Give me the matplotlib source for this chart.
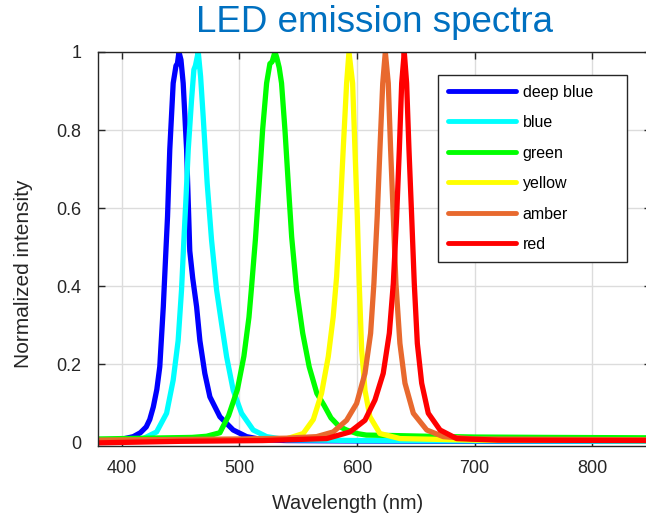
import matplotlib
matplotlib.use('Agg')
import matplotlib.pyplot as plt

# ── Spectra (wavelength in nm, normalized intensity) ──
deep_blue_wl = [380, 395, 401, 410, 416, 421, 424, 427, 430, 432.5, 435.5, 437.7, 439.1, 441,
                443.9, 446.3, 447.5, 448.8, 450.5, 452.4, 455.3, 458, 460.5, 463.8, 466.6,
                470.8, 475.1, 483.6, 494.9, 506.3, 520, 540, 600, 700, 850]
deep_blue_i = [0.003, 0.006, 0.008, 0.014, 0.024, 0.039, 0.058, 0.09, 0.135, 0.193, 0.347,
               0.49, 0.578, 0.75, 0.92, 0.965, 0.97, 1.0, 0.98, 0.92, 0.75, 0.49, 0.42,
               0.347, 0.26, 0.176, 0.116, 0.065, 0.031, 0.014, 0.006, 0.004, 0.003, 0.002,
               0.002]

blue_wl = [380, 400, 418.4, 429.8, 438.3, 443.9, 448.1, 451, 453, 454.7, 456.7, 459.5,
           461.5, 462.8, 465.2, 467.2, 469.4, 472.8, 476.5, 480.8, 485, 489.3, 494.9, 502,
           511.9, 523.3, 540, 600, 700, 850]
blue_i = [0.003, 0.004, 0.009, 0.026, 0.074, 0.159, 0.26, 0.39, 0.518, 0.62, 0.75, 0.877,
          0.955, 0.965, 1.0, 0.937, 0.834, 0.663, 0.518, 0.39, 0.304, 0.219, 0.133, 0.074,
          0.031, 0.014, 0.006, 0.004, 0.003, 0.002]

green_wl = [380, 420, 460, 472.3, 483.6, 491, 498.5, 504, 508.3, 510.3, 513.8, 517, 519.9,
            523.3, 526.1, 528, 530.4, 532, 534, 536, 538.9, 541.7, 544.6, 548.8, 554, 559.5,
            566, 572, 578, 585, 591.3, 600, 608, 628, 660, 700, 760, 850]
green_i = [0.008, 0.01, 0.012, 0.015, 0.024, 0.068, 0.135, 0.22, 0.32, 0.39, 0.52, 0.663,
           0.8, 0.92, 0.97, 0.975, 1.0, 0.985, 0.96, 0.92, 0.8, 0.663, 0.526, 0.39, 0.279,
           0.193, 0.125, 0.095, 0.062, 0.04, 0.031, 0.022, 0.018, 0.017, 0.015, 0.013,
           0.012, 0.011]

yellow_wl = [380, 500, 540, 554.4, 563, 570, 575.7, 579.9, 582.8, 585.6, 588.4, 591.3,
             593.3, 596.4, 598.4, 600.4, 602, 604.1, 606.9, 611.1, 619.6, 636.6, 700, 850]
yellow_i = [0.004, 0.005, 0.008, 0.022, 0.058, 0.125, 0.219, 0.321, 0.424, 0.578, 0.75,
            0.92, 1.0, 0.92, 0.75, 0.578, 0.407, 0.236, 0.133, 0.065, 0.022, 0.009, 0.005,
            0.004]

amber_wl = [380, 500, 540, 565.8, 579.9, 591.3, 599.8, 606.9, 611.7, 614.5, 617.3, 619.6,
            622, 624.2, 626.7, 628.7, 631, 633.2, 636.6, 640.9, 648, 659.4, 673.5, 700, 850]
amber_i = [0.005, 0.008, 0.01, 0.014, 0.026, 0.056, 0.099, 0.176, 0.279, 0.407, 0.578,
           0.75, 0.92, 1.0, 0.92, 0.75, 0.578, 0.407, 0.253, 0.151, 0.074, 0.031, 0.014,
           0.008, 0.006]

red_wl = [380, 450, 520, 574.3, 594.1, 606.9, 615.4, 622.4, 627.6, 631, 633.8, 636.1,
          638.1, 640.3, 642.3, 644.3, 646.6, 648.8, 651.4, 655.1, 660.7, 670.7, 684.9, 720,
          850]
red_i = [-0.002, 0.002, 0.004, 0.009, 0.026, 0.056, 0.108, 0.176, 0.279, 0.407, 0.578,
         0.75, 0.92, 1.0, 0.92, 0.75, 0.578, 0.407, 0.253, 0.151, 0.074, 0.031, 0.009,
         0.005, 0.004]

labels = ['deep blue', 'blue', 'green', 'yellow', 'amber', 'red']
colors = ['#0000FF', '#00FFFF', '#00FF00', '#FFFF00', '#E8692E', '#FF0000']
x_ticks = [400, 500, 600, 700, 800]
y_ticks = [0, 0.2, 0.4, 0.6, 0.8, 1]
y_tick_labels = ['0', '0.2', '0.4', '0.6', '0.8', '1']

series = [(deep_blue_wl, deep_blue_i), (blue_wl, blue_i), (green_wl, green_i),
          (yellow_wl, yellow_i), (amber_wl, amber_i), (red_wl, red_i)]

# ── Plot ──────────────────────────────────────────────────────────────────────
plt.rcParams['font.family'] = ['Liberation Sans', 'DejaVu Sans']
TXT = '#262626'

W, H = 646, 516
fig = plt.figure(figsize=(W / 100, H / 100), dpi=100)
ax = fig.add_axes([98 / W, (H - 446) / H, (651 - 98) / W, (446 - 52) / H])

for (wl, inten), lab, col in zip(series, labels, colors):
    ax.plot(wl, inten, color=col, lw=3.8, label=lab,
            solid_joinstyle='round', solid_capstyle='round')

ax.set_xlim(380, 850)
ax.set_ylim(-0.01, 1)
ax.set_xticks(x_ticks)
ax.set_yticks(y_ticks)
ax.set_yticklabels(y_tick_labels)
ax.grid(True, color='#dcdcdc', lw=1)
ax.set_axisbelow(True)
ax.tick_params(direction='in', length=5, width=1, color=TXT, labelsize=13,
               labelcolor=TXT, top=True, right=True)
ax.tick_params(axis='x', pad=10)
ax.tick_params(axis='y', pad=12)
for sp in ax.spines.values():
    sp.set_color(TXT)
    sp.set_linewidth(1)

# label coords: x label anchored at its top, y label at its right edge (rotated)
ax.set_xlabel('Wavelength (nm)', fontsize=14.3, color=TXT)
ax.set_ylabel('Normalized intensity', fontsize=15, color=TXT)
ax.xaxis.set_label_coords(0.452, -0.123)
ax.yaxis.set_label_coords(-0.118, 0.4365)
fig.text(374 / W, 1 - 23 / H, 'LED emission spectra', fontsize=26.5, color='#0070C0',
         ha='center', va='center')

leg = ax.legend(loc='upper left',
                bbox_to_anchor=(438 / W, 1 - 75 / H - 0.01, 189 / W, 0.01),
                bbox_transform=fig.transFigure, mode='expand', borderaxespad=0,
                fontsize=11.5, handlelength=4.3, handletextpad=0.4, labelspacing=0.97,
                borderpad=0.6, fancybox=False, framealpha=1, edgecolor=TXT)
leg.get_frame().set_linewidth(1)
for line in leg.get_lines():
    line.set_linewidth(3.5)

plt.savefig('out.png', dpi=100)
